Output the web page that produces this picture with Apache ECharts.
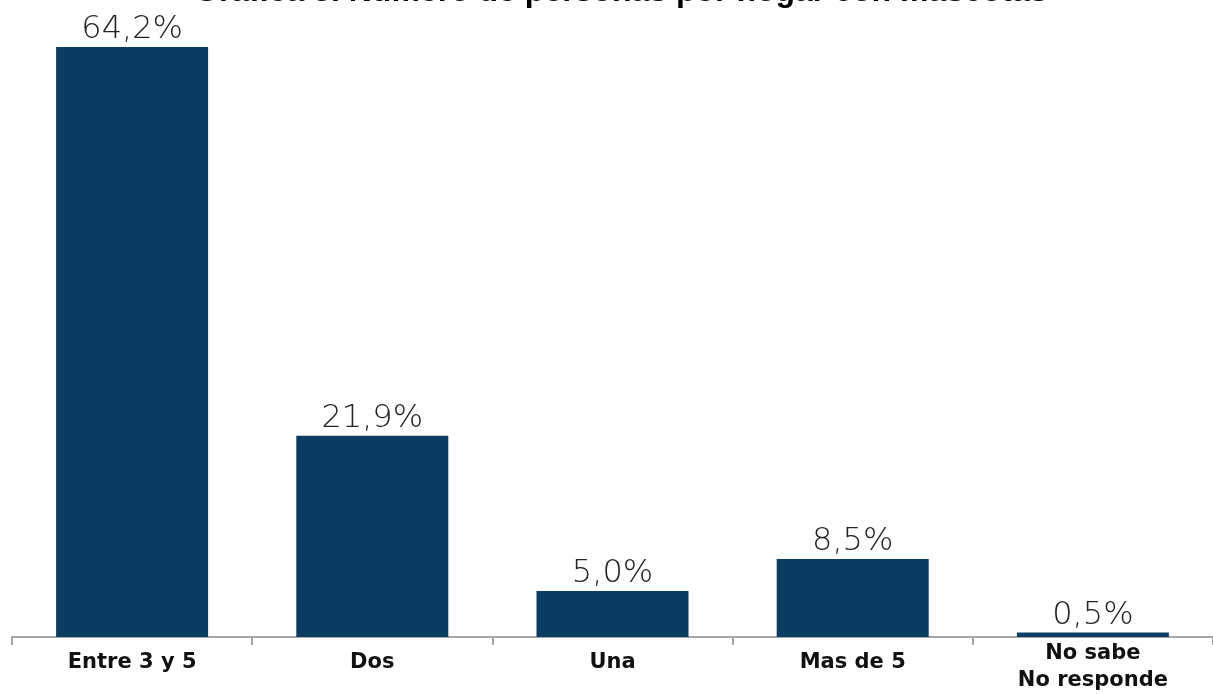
<!DOCTYPE html>
<html>
<head>
<meta charset="utf-8">
<script src="https://cdn.jsdelivr.net/npm/echarts@6/dist/echarts.min.js"></script>
<style>
  html, body { margin: 0; padding: 0; background: #fff; }
  #chart { width: 1213px; height: 694px; }
</style>
</head>
<body>
<div id="chart"></div>
<script>
// datos de la grafica
const categories = ['Entre 3 y 5', 'Dos', 'Una', 'Mas de 5', 'No sabe\nNo responde']
const values = [64.2, 21.9, 5.0, 8.5, 0.5]
const titleText = 'Gráfica 3. Número de personas por hogar con mascotas'

const myChart = echarts.init(document.getElementById('chart'))
const option = {
  animation: false,
  title: {
    text: titleText,
    left: 189,
    top: -29,
    textStyle: {
      fontFamily: 'Liberation Sans',
      fontWeight: 'bold',
      fontSize: 32,
      color: '#000'
    }
  },
  grid: {
    left: 12,
    width: 1210,
    top: 47,
    bottom: 57,
    containLabel: false
  },
  xAxis: {
    type: 'category',
    data: categories,
    axisLine: { lineStyle: { color: '#a6a6a6', width: 2 } },
    axisTick: { show: true, length: 8, lineStyle: { color: '#a6a6a6', width: 2 } },
    axisLabel: {
      color: '#111',
      fontFamily: 'DejaVu Sans',
      fontWeight: 'bold',
      fontSize: 21,
      margin: 3,
      interval: 0,
      // etiquetas de una linea un poco mas abajo
      formatter: v => v.indexOf('\n') >= 0
        ? v.split('\n').map(s => '{m|' + s + '}').join('\n')
        : '{s|' + v + '}',
      rich: {
        s: { lineHeight: 45 },
        m: { lineHeight: 27 }
      }
    }
  },
  yAxis: {
    type: 'value',
    min: 0,
    max: 'dataMax',
    show: false,
    splitLine: { show: false }
  },
  series: [{
    type: 'bar',
    data: values,
    barWidth: 152,
    itemStyle: { color: '#0b3c61' },
    label: {
      show: true,
      position: 'top',
      distance: 1,
      color: '#222',
      fontFamily: 'DejaVu Sans',
      fontWeight: 200,
      fontSize: 32,
      formatter: p => p.value.toFixed(1).replace('.', ',') + '%'
    }
  }]
}
myChart.setOption(option)
</script>
</body>
</html>
